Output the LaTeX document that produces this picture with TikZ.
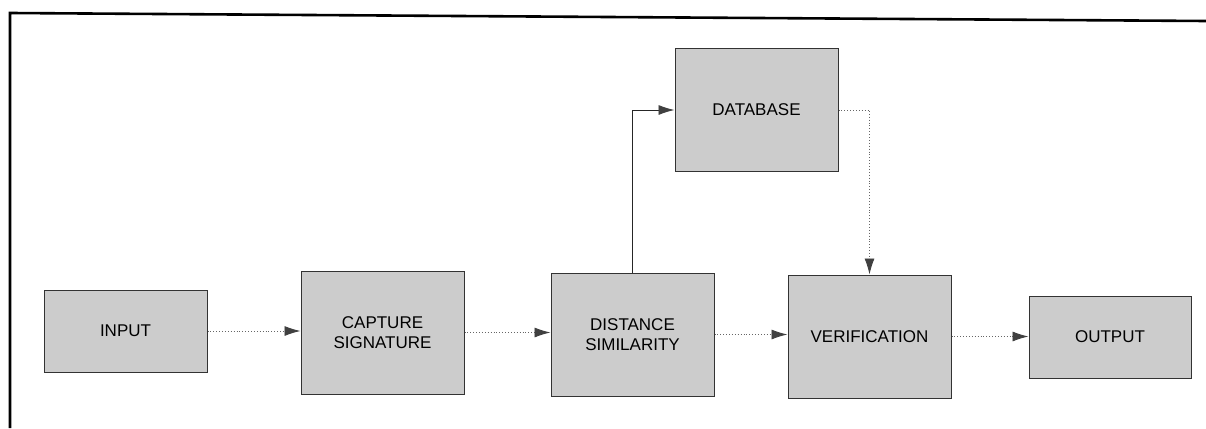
\documentclass[tikz,border=0pt]{standalone}
\usepackage{fontspec}
\setmainfont{Liberation Sans}
\usetikzlibrary{arrows.meta}
\begin{document}
\begin{tikzpicture}[x=1pt,y=-1pt,
  blockbox/.style={draw=black!80, line width=1pt, fill=black!20, align=center,
    inner sep=0pt, font=\fontsize{17}{20}\selectfont, text=black},
  tipstyle/.style={-{Latex[length=16pt,width=10pt,fill=black!75,black!75]}},
  flow/.style={draw=black!60, line width=0.9pt, dotted, tipstyle},
  solidflow/.style={draw=black!85, line width=0.9pt, tipstyle},
  framebox/.style={draw=black, line width=2.6pt}]
\useasboundingbox (0,0) rectangle (1206,428);
\draw[framebox] (10,428) -- (10,13) -- (1206,21);
\node[blockbox, minimum width=163pt, minimum height=82pt] (inp) at (125.5,331) {INPUT};
\node[blockbox, minimum width=163pt, minimum height=123pt] (cap) at (382.5,332.5) {CAPTURE\\SIGNATURE};
\node[blockbox, minimum width=163pt, minimum height=123pt] (dist) at (632.5,334.5) {DISTANCE\\SIMILARITY};
\node[blockbox, minimum width=163pt, minimum height=122pt] (db) at (756.5,110) {DATABASE};
\node[blockbox, minimum width=163pt, minimum height=123pt] (ver) at (869.5,336.5) {VERIFICATION};
\node[blockbox, minimum width=162pt, minimum height=82pt] (out) at (1110,337) {OUTPUT};
\draw[flow] (inp.east) -- (inp.east -| cap.west);
\draw[flow] (cap.east) -- (cap.east -| dist.west);
\draw[flow] (dist.east) -- (dist.east -| ver.west);
\draw[flow] (ver.east) -- (ver.east -| out.west);
\draw[solidflow] (dist.north) |- (db.west);
\draw[flow] (db.east) -| (ver.north);
\end{tikzpicture}
\end{document}
